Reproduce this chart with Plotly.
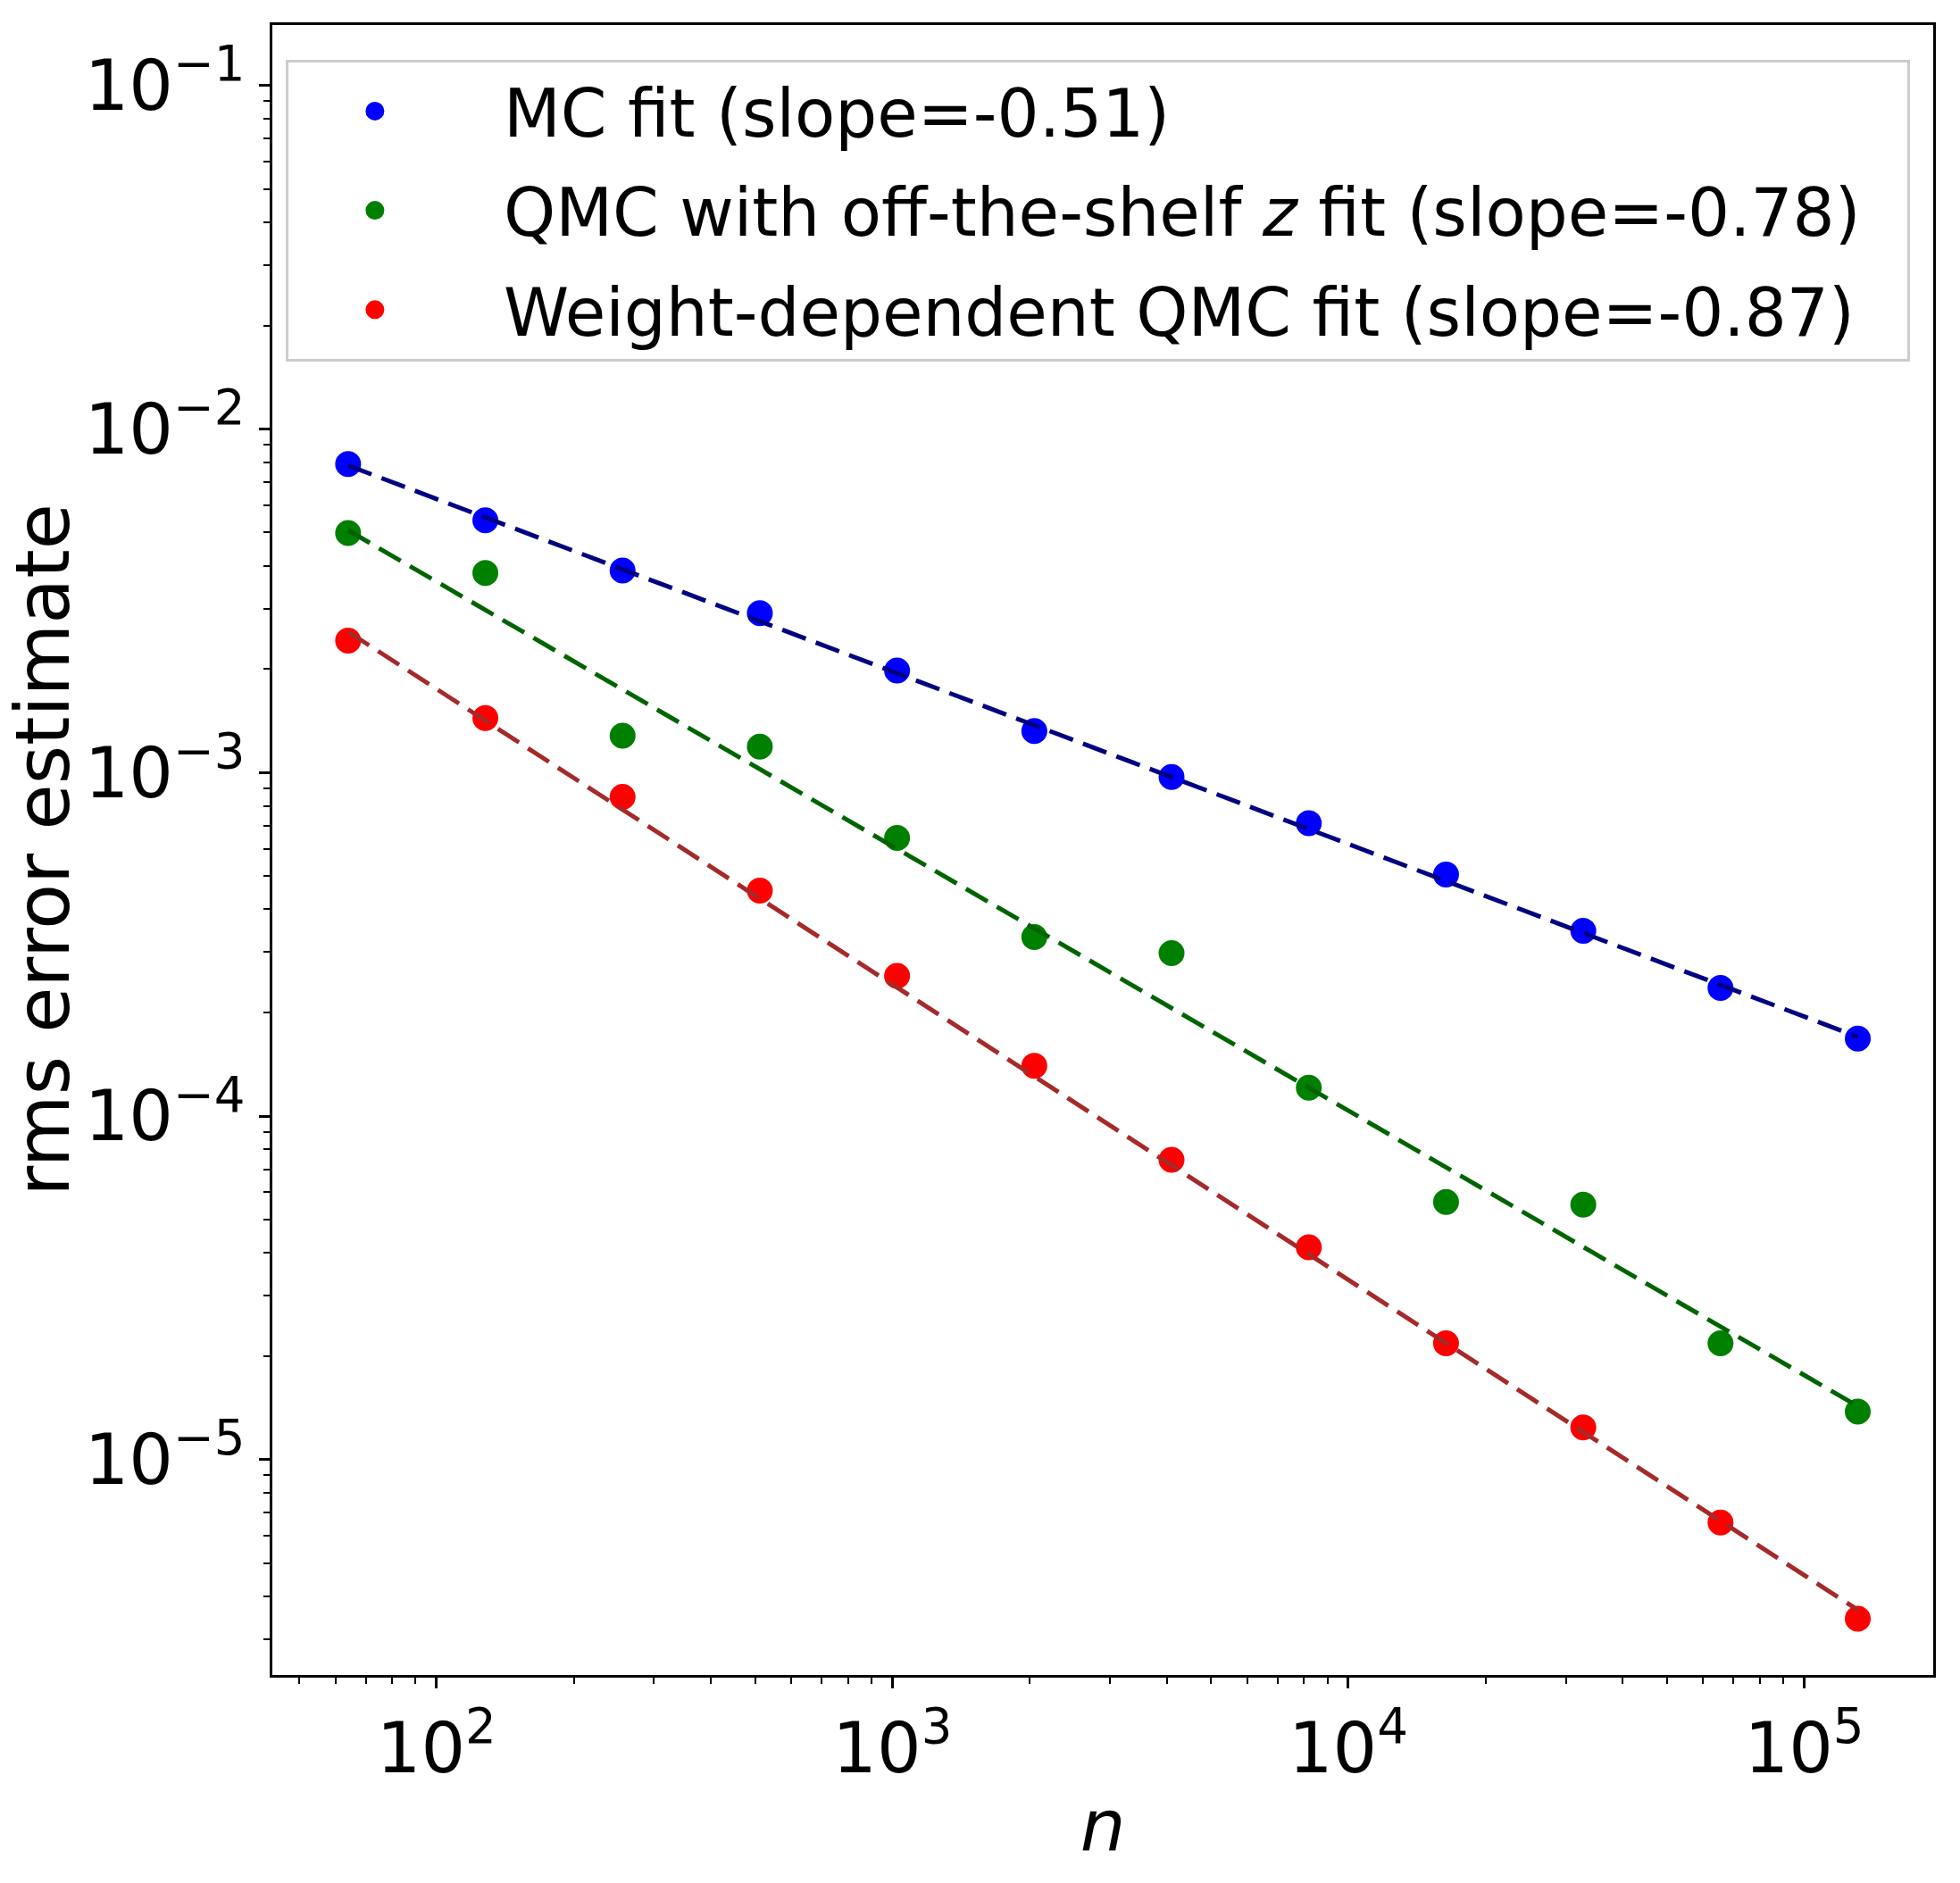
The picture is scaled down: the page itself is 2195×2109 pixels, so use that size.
import plotly.graph_objects as go

n_vals = [64, 128, 256, 512, 1024, 2048, 4096, 8192, 16384, 32768, 65536, 131072]

mc_err = [7.90e-3, 5.42e-3, 3.87e-3, 2.91e-3, 1.98e-3, 1.32e-3, 9.7e-4, 7.12e-4,
          5.05e-4, 3.46e-4, 2.36e-4, 1.68e-4]
qmc_err = [4.98e-3, 3.81e-3, 1.28e-3, 1.19e-3, 6.45e-4, 3.32e-4, 2.98e-4, 1.21e-4,
           5.62e-5, 5.52e-5, 2.18e-5, 1.38e-5]
wqmc_err = [2.42e-3, 1.44e-3, 8.5e-4, 4.53e-4, 2.56e-4, 1.40e-4, 7.46e-5, 4.15e-5,
            2.18e-5, 1.24e-5, 6.56e-6, 3.44e-6]

fit_n = [64, 131072]
mc_fit = [7.83e-3, 1.70e-4]
qmc_fit = [5.07e-3, 1.43e-5]
wqmc_fit = [2.57e-3, 3.65e-6]

labels = ["MC fit (slope=-0.51)",
          "QMC with off-the-shelf <i>z</i> fit (slope=-0.78)\u00a0\u00a0",
          "Weight-dependent QMC fit (slope=-0.87)"]

x_tickvals = [1e2, 1e3, 1e4, 1e5]
x_ticktext = ["10<sup>2</sup>", "10<sup>3</sup>", "10<sup>4</sup>", "10<sup>5</sup>"]
y_tickvals = [1e-1, 1e-2, 1e-3, 1e-4, 1e-5]
y_ticktext = ["10<sup>\u22121</sup>", "10<sup>\u22122</sup>", "10<sup>\u22123</sup>",
              "10<sup>\u22124</sup>", "10<sup>\u22125</sup>"]

FONT = "DejaVu Sans"
pad = "\u00a0\u00a0"

fig = go.Figure()
series = [(mc_err, mc_fit, "#0000ff", "#000080"),
          (qmc_err, qmc_fit, "#008000", "#006400"),
          (wqmc_err, wqmc_fit, "#ff0000", "#a52a2a")]
for i, (err, fit, mcol, lcol) in enumerate(series):
    fig.add_trace(go.Scatter(x=n_vals, y=err, mode="markers", name=pad + labels[i],
                             legendgroup=f"g{i}",
                             marker=dict(color=mcol, size=24, line=dict(width=5, color=mcol))))
for i, (err, fit, mcol, lcol) in enumerate(series):
    fig.add_trace(go.Scatter(x=fit_n, y=fit, mode="lines", showlegend=False,
                             line=dict(color=lcol, width=5, dash="28px,12px")))

minor_vals = [m * 10 ** e for e in range(-7, 7) for m in range(2, 10)]

axis_common = dict(type="log", showgrid=False, zeroline=False, showline=True,
                   linecolor="black", linewidth=3, mirror=True, ticks="outside",
                   ticklen=12, tickwidth=3, tickcolor="black", automargin=False,
                   tickfont=dict(family=FONT, size=78, color="black"),
                   minor=dict(ticks="outside", ticklen=7, tickwidth=2, tickcolor="black",
                              tickvals=minor_vals, showgrid=False))

fig.update_layout(
    width=2195, height=2109,
    margin=dict(l=305, r=30, t=28, b=233),
    plot_bgcolor="white", paper_bgcolor="white",
    font=dict(family=FONT, color="black"),
    xaxis=dict(axis_common, range=[1.640, 5.283], tickmode="array",
               tickvals=x_tickvals, ticktext=x_ticktext,
               title=dict(text="<i>n</i>", font=dict(family=FONT, size=80), standoff=16)),
    yaxis=dict(axis_common, range=[-5.627, -0.824], tickmode="array",
               tickvals=y_tickvals, ticktext=y_ticktext,
               title=dict(text="rms error estimate", font=dict(family=FONT, size=83), standoff=36)),
    legend=dict(x=0.008, y=0.979, xanchor="left", yanchor="top",
                font=dict(family=FONT, size=74, color="black"),
                bgcolor="rgba(255,255,255,0.8)", bordercolor="#cccccc", borderwidth=3,
                itemwidth=184, tracegroupgap=12, traceorder="grouped"),
    showlegend=True,
)

fig.write_html("out.html")
